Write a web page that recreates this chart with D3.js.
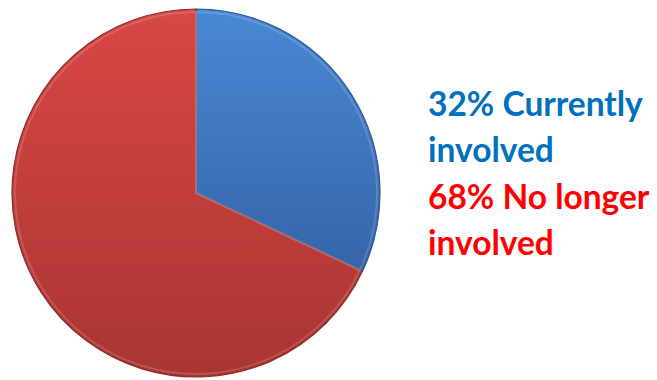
<!DOCTYPE html>
<style>
body { margin: 0; background: #fff; }
svg { font-family: Lato, "Open Sans", sans-serif; }
</style>
<svg width="657" height="380"></svg>
<script src="https://d3js.org/d3.v7.min.js"></script>
<script>

var labels = ["Currently involved", "No longer involved"];
var values = [32, 68];
var lines = [["32% Currently", "involved"], ["68% No longer", "involved"]];
var textColors = ["#0070c0", "#ff0000"];

var svg = d3.select("svg"),
    cx = 196, cy = 193, r = 184;

var defs = svg.append("defs");
var grads = [["#4a88d4", "#3565a8"], ["#d84745", "#a93532"]];
grads.forEach(function(g, i) {
  var lg = defs.append("linearGradient").attr("id", "g" + i)
      .attr("x1", 0).attr("y1", 0).attr("x2", 0).attr("y2", 1);
  lg.append("stop").attr("offset", "0%").attr("stop-color", g[0]);
  lg.append("stop").attr("offset", "100%").attr("stop-color", g[1]);
});

var pie = d3.pie().sort(null).value(function(d) { return d; });
var arc = d3.arc().innerRadius(0).outerRadius(r);
var arcIn = d3.arc().innerRadius(0).outerRadius(r - 3);

var g = svg.append("g").attr("transform", "translate(" + cx + "," + cy + ")");
var arcs = pie(values);

g.selectAll("path.base")
  .data(arcs)
  .enter().append("path")
    .attr("class", "base")
    .attr("d", arc)
    .attr("fill", function(d, i) { return "url(#g" + i + ")"; })
    .attr("stroke", function(d, i) { return i ? "#8e2c29" : "#2d5a96"; })
    .attr("stroke-width", 1.2)
    .attr("stroke-linejoin", "round");

// soft bevel highlight
g.selectAll("path.hl")
  .data(arcs)
  .enter().append("path")
    .attr("class", "hl")
    .attr("d", arcIn)
    .attr("fill", "none")
    .attr("stroke", "#fff")
    .attr("stroke-opacity", 0.15)
    .attr("stroke-width", 2);

var text = svg.append("g").attr("font-weight", "bold").attr("font-size", 33.5);
var baselines = [116, 162, 209, 255];
lines.forEach(function(ls, i) {
  ls.forEach(function(s, j) {
    text.append("text")
      .attr("x", 428)
      .attr("y", baselines[i * 2 + j])
      .attr("fill", textColors[i])
      .text(s);
  });
});

</script>
